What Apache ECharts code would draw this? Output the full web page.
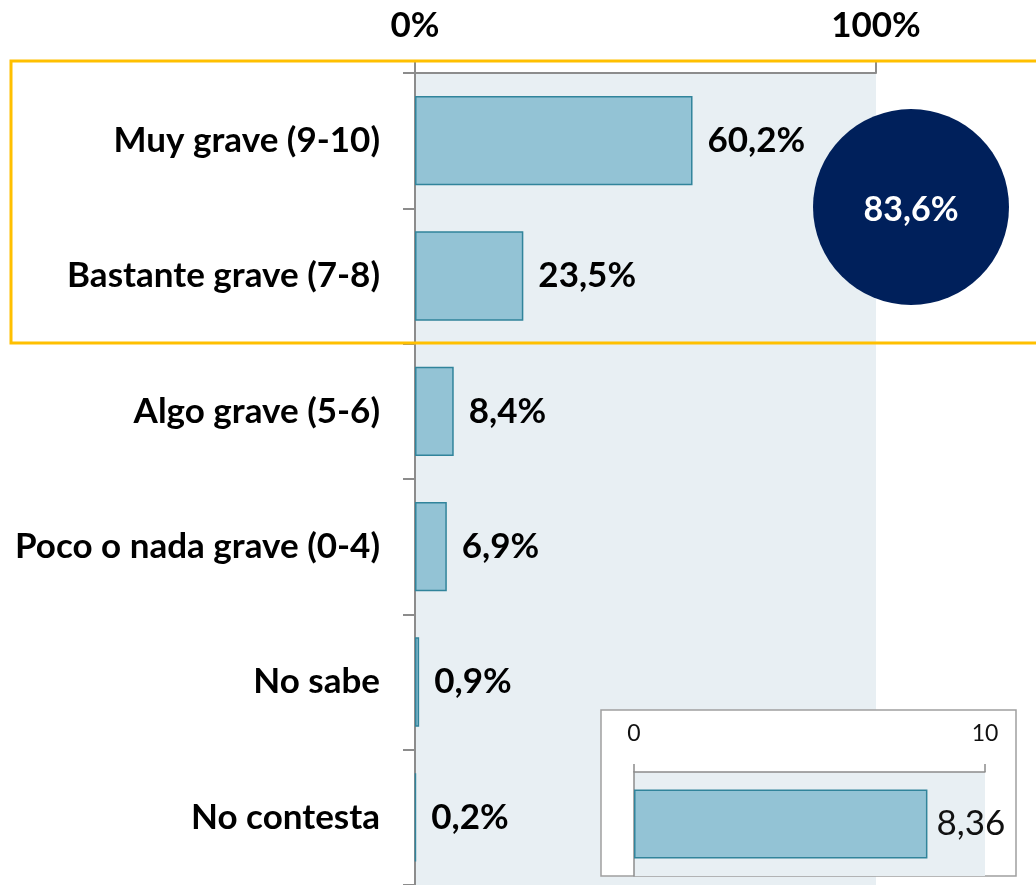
<!DOCTYPE html>
<html>
<head>
<meta charset="utf-8">
<script src="https://cdn.jsdelivr.net/npm/echarts@6/dist/echarts.min.js"></script>
<style>
    html, body { margin: 0; padding: 0; background: #fff; }
    #chart { width: 1036px; height: 885px; }
</style>
</head>
<body>
<div id="chart"></div>
<script>
// categories and values (percent)
const categories = ['Muy grave (9-10)', 'Bastante grave (7-8)', 'Algo grave (5-6)', 'Poco o nada grave (0-4)', 'No sabe', 'No contesta']
const values = [60.2, 23.5, 8.4, 6.9, 0.9, 0.2]
const graveTotal = 83.6

// inset: mean score on 0-10 scale
const meanCategory = ['Media']
const meanValue = [8.36]

const FONT = 'Lato, "Open Sans", sans-serif'
const axisGray = '#8c8c8c'
const barColor = '#93c3d5'
const barBorder = '#31849b'
const plotBg = '#e8eff3'

const fmt = (v, d) => v.toFixed(d).replace('.', ',')

const option = {
    animation: false,
    textStyle: { fontFamily: FONT },
    grid: [
        {
            left: 415, top: 73, width: 461, height: 816,
            show: true, backgroundColor: plotBg, borderWidth: 0, z: 0
        },
        {
            left: 634, top: 772, width: 351, height: 104,
            show: true, backgroundColor: plotBg, borderWidth: 0, z: 4
        }
    ],
    xAxis: [
        {
            gridIndex: 0,
            type: 'value',
            position: 'top',
            min: 0, max: 100, interval: 100,
            axisLine: { show: true, lineStyle: { color: axisGray, width: 2 } },
            axisTick: { show: true, length: 11, lineStyle: { color: axisGray, width: 2 } },
            splitLine: { show: false },
            axisLabel: {
                formatter: '{value}%', fontSize: 35, fontWeight: 'bold',
                color: '#000', margin: 30, fontFamily: FONT
            }
        },
        {
            gridIndex: 1,
            type: 'value',
            position: 'top',
            min: 0, max: 10, interval: 10,
            z: 6,
            axisLine: { show: true, lineStyle: { color: axisGray, width: 1.5 } },
            axisTick: { show: true, length: 8, lineStyle: { color: axisGray, width: 1.5 } },
            splitLine: { show: false },
            axisLabel: { fontSize: 23, color: '#111', margin: 27, fontFamily: FONT }
        }
    ],
    yAxis: [
        {
            gridIndex: 0,
            type: 'category',
            inverse: true,
            data: categories,
            axisLine: { show: true, lineStyle: { color: axisGray, width: 2 } },
            axisTick: { show: true, length: 12, lineStyle: { color: axisGray, width: 2 } },
            axisLabel: {
                fontSize: 35, fontWeight: 'bold', color: '#000', margin: 35, fontFamily: FONT
            }
        },
        {
            gridIndex: 1,
            type: 'category',
            data: meanCategory,
            z: 6,
            axisLine: { show: true, onZero: false, lineStyle: { color: axisGray, width: 1.5 } },
            axisTick: { show: false },
            axisLabel: { show: false }
        }
    ],
    series: [
        {
            type: 'bar',
            xAxisIndex: 0, yAxisIndex: 0,
            data: values,
            barWidth: '66%',
            z: 2,
            itemStyle: { color: barColor, borderColor: barBorder, borderWidth: 1.5 },
            label: {
                show: true, position: 'right', distance: 15,
                fontSize: 35, fontWeight: 'bold', color: '#000', fontFamily: FONT,
                formatter: p => fmt(p.value, 1) + '%'
            }
        },
        {
            type: 'bar',
            xAxisIndex: 1, yAxisIndex: 1,
            data: meanValue,
            barWidth: 69,
            z: 6,
            itemStyle: { color: barColor, borderColor: barBorder, borderWidth: 1.5 },
            label: {
                show: true, position: 'right', distance: 9,
                fontSize: 35, color: '#111', fontFamily: FONT,
                formatter: p => fmt(p.value, 2)
            }
        }
    ],
    graphic: [
        {
            type: 'rect', z: 3,
            shape: { x: 601, y: 710, width: 415, height: 166 },
            style: { fill: '#fff', stroke: '#a0a0a0', lineWidth: 1.5 }
        },
        {
            type: 'rect', z: 8,
            shape: { x: 11, y: 61, width: 1040, height: 282 },
            style: { fill: null, stroke: '#ffc000', lineWidth: 3 }
        },
        {
            type: 'group', z: 9,
            children: [
                {
                    type: 'circle', z: 9,
                    shape: { cx: 911, cy: 207, r: 98 },
                    style: { fill: '#00205b' }
                },
                {
                    type: 'text', z: 10,
                    x: 911, y: 210,
                    style: {
                        text: fmt(graveTotal, 1) + '%',
                        fill: '#fff', fontSize: 34, fontWeight: 'bold', fontFamily: FONT,
                        align: 'center', verticalAlign: 'middle'
                    }
                }
            ]
        }
    ]
}

const chart = echarts.init(document.getElementById('chart'))
chart.setOption(option)
</script>
</body>
</html>
